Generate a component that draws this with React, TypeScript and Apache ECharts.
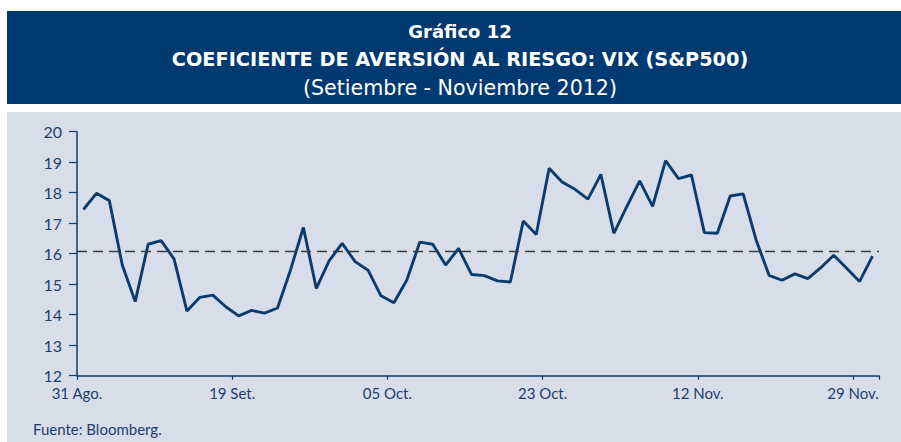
import React, { useEffect, useRef } from "react";
import * as echarts from "echarts";

const CATEGORIES = [
  "31 Ago.", "04 Set.", "05 Set.", "06 Set.", "07 Set.", "10 Set.", "11 Set.", "12 Set.", "13 Set.", "14 Set.",
  "17 Set.", "18 Set.", "19 Set.", "20 Set.", "21 Set.", "24 Set.", "25 Set.", "26 Set.", "27 Set.", "28 Set.",
  "01 Oct.", "02 Oct.", "03 Oct.", "04 Oct.", "05 Oct.", "08 Oct.", "09 Oct.", "10 Oct.", "11 Oct.", "12 Oct.",
  "15 Oct.", "16 Oct.", "17 Oct.", "18 Oct.", "19 Oct.", "22 Oct.", "23 Oct.", "24 Oct.", "25 Oct.", "26 Oct.",
  "31 Oct.", "01 Nov.", "02 Nov.", "05 Nov.", "06 Nov.", "07 Nov.", "08 Nov.", "09 Nov.", "12 Nov.", "13 Nov.",
  "14 Nov.", "15 Nov.", "16 Nov.", "19 Nov.", "20 Nov.", "21 Nov.", "23 Nov.", "26 Nov.", "27 Nov.", "28 Nov.",
  "29 Nov.", "30 Nov.",
];

const VIX = [
  17.45, 17.98, 17.74, 15.63, 14.43, 16.31, 16.43, 15.83, 14.12, 14.57,
  14.64, 14.26, 13.96, 14.14, 14.05, 14.22, 15.46, 16.86, 14.86, 15.77,
  16.34, 15.74, 15.46, 14.62, 14.39, 15.14, 16.38, 16.31, 15.63, 16.17,
  15.32, 15.28, 15.11, 15.07, 17.07, 16.63, 18.8, 18.35, 18.11, 17.79,
  18.6, 16.67, 17.54, 18.39, 17.55, 19.05, 18.46, 18.58, 16.69, 16.67,
  17.89, 17.96, 16.45, 15.29, 15.13, 15.34, 15.18, 15.54, 15.95, 15.52,
  15.09, 15.92,
];

const AVERAGE = 16.07;

const TITLE_LINES = [
  "Gráfico 12",
  "COEFICIENTE DE AVERSIÓN AL RIESGO: VIX (S&P500)",
  "(Setiembre - Noviembre 2012)",
];
const SOURCE = "Fuente: Bloomberg.";

const NAVY = "#003a70";
const PANEL = "#d8dee9";
const TEXT_BLUE = "#1d3f6e";
const LINE_BLUE = "#0c3c6d";
const AXIS_FONT = "Lato, sans-serif";
const TITLE_FONT = "'DejaVu Sans', 'Open Sans', sans-serif";

export default function App() {
  const ref = useRef<HTMLDivElement>(null);
  useEffect(() => {
    if (!ref.current) return;
    const chart = echarts.init(ref.current, undefined, { renderer: "svg" });
    chart.setOption({
      animation: false,
      backgroundColor: "#ffffff",
      graphic: [
        { type: "rect", z: -10, shape: { x: 7, y: 11, width: 894, height: 93 }, style: { fill: NAVY } },
        { type: "rect", z: -10, shape: { x: 7, y: 112, width: 894, height: 330 }, style: { fill: PANEL } },
        {
          type: "text", z: 10, x: 460, y: 31,
          style: { text: TITLE_LINES[0], textAlign: "center", textVerticalAlign: "middle", fill: "#ffffff", fontFamily: TITLE_FONT, fontWeight: "bold", fontSize: 18 },
        },
        {
          type: "text", z: 10, x: 460, y: 59,
          style: { text: TITLE_LINES[1], textAlign: "center", textVerticalAlign: "middle", fill: "#ffffff", fontFamily: TITLE_FONT, fontWeight: "bold", fontSize: 19.3 },
        },
        {
          type: "text", z: 10, x: 460, y: 88,
          style: { text: TITLE_LINES[2], textAlign: "center", textVerticalAlign: "middle", fill: "#ffffff", fontFamily: TITLE_FONT, fontWeight: "normal", fontSize: 20.6 },
        },
        {
          type: "text", z: 10, x: 33, y: 429,
          style: { text: SOURCE, textAlign: "left", textVerticalAlign: "middle", fill: TEXT_BLUE, fontFamily: AXIS_FONT, fontSize: 15 },
        },
      ],
      grid: { left: 77, right: 22, top: 131.7, bottom: 66.3, containLabel: false },
      xAxis: {
        type: "category",
        data: CATEGORIES,
        boundaryGap: true,
        axisLine: { lineStyle: { color: LINE_BLUE, width: 1.5 } },
        axisTick: { show: true, interval: 11, length: 4, inside: false, lineStyle: { color: LINE_BLUE, width: 1.2 } },
        axisLabel: {
          interval: 11,
          color: TEXT_BLUE,
          fontFamily: AXIS_FONT,
          fontSize: 15,
          margin: 10,
          padding: [0, 13, 0, 0],
        },
        splitLine: { show: false },
      },
      yAxis: {
        type: "value",
        min: 12,
        max: 20,
        interval: 1,
        axisLine: { show: true, lineStyle: { color: LINE_BLUE, width: 1.5 } },
        axisTick: { show: true, length: 8, lineStyle: { color: LINE_BLUE, width: 1.2 } },
        axisLabel: { color: TEXT_BLUE, fontFamily: AXIS_FONT, fontSize: 16, margin: 15 },
        splitLine: { show: false },
      },
      series: [
        {
          type: "line",
          data: VIX,
          symbol: "none",
          lineStyle: { color: LINE_BLUE, width: 2.9 },
          z: 3,
          markLine: {
            silent: true,
            symbol: "none",
            label: { show: false },
            lineStyle: { color: "#3a3a3a", type: [10, 6], width: 1.3 },
            data: [{ yAxis: AVERAGE }],
          },
        },
      ],
    });
    return () => chart.dispose();
  }, []);
  return (
    <div
      ref={ref}
      style={{ position: "absolute", left: 0, top: 0, width: 901, height: 442 }}
    />
  );
}
